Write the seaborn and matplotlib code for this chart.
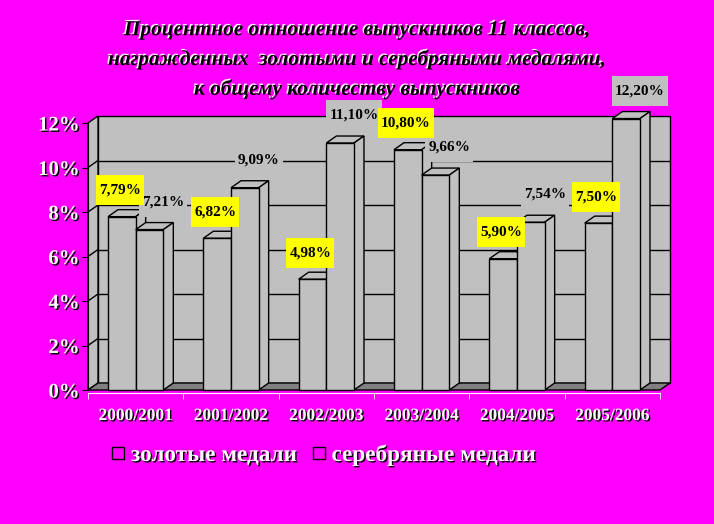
import numpy as np
import pandas as pd
import matplotlib
matplotlib.use('Agg')
import matplotlib.pyplot as plt
import matplotlib.patheffects as pe
from matplotlib.patches import Polygon, Rectangle
from matplotlib.path import Path
from matplotlib.lines import Line2D
import seaborn as sns

# Data.
years = ['2000/2001', '2001/2002', '2002/2003', '2003/2004', '2004/2005', '2005/2006']
gold = [7.79, 6.82, 4.98, 10.80, 5.90, 7.50]
silver = [7.21, 9.09, 11.10, 9.66, 7.54, 12.20]
series = ['золотые медали', 'серебряные медали']
title = ('Процентное отношение выпускников 11 классов,\n'
         'награжденных  золотыми и серебряными медалями,\n'
         'к общему количеству выпускников')
yticks = [0, 2, 4, 6, 8, 10, 12]

df = pd.DataFrame({
    'year': years * 2,
    'value': gold + silver,
    'kind': [series[0]] * len(years) + [series[1]] * len(years),
})

sns.set_style('white')
plt.rcParams['font.family'] = ['Liberation Serif', 'DejaVu Serif']

MAGENTA = '#FF00FF'
WALL = '#C0C0C0'
FLOOR = '#808080'


def tall_box(x0, y0, width, height, mutation_size):
    # label box: little padding at the sides, more above and below
    px, py = 0.2 * mutation_size, 0.55 * mutation_size
    return Path.unit_rectangle().transformed(
        matplotlib.transforms.Affine2D().scale(width + 2 * px, height + 2 * py)
        .translate(x0 - px, y0 - py))


fig = plt.figure(figsize=(7.14, 5.24), dpi=100, facecolor=MAGENTA)
ax = fig.add_axes([88 / 714, 1 - 390 / 524, 572 / 714, 267 / 524])
ax.set_facecolor('none')

sns.barplot(data=df, x='year', y='value', hue='kind', hue_order=series,
            palette=[WALL, WALL], edgecolor='black', linewidth=1,
            width=0.58, gap=0, legend=False, ax=ax, zorder=3)

ax.set_xlim(-0.5, len(years) - 0.5)
ax.set_ylim(0, 12)

# depth of the pseudo-3D effect, in pixels converted to data units
px_x = 572 / len(years)
px_y = 267 / 12
ddx, ddy = 10 / px_x, 7 / px_y
x0, x1 = -0.5, len(years) - 0.5

# back wall, left wall and floor
ax.add_patch(Rectangle((x0 + ddx, ddy), x1 - x0, 12, facecolor=WALL,
                       edgecolor='black', lw=1, zorder=0, clip_on=False))
ax.add_patch(Polygon([(x0, 0), (x0, 12), (x0 + ddx, 12 + ddy), (x0 + ddx, ddy)],
                     facecolor=WALL, edgecolor='black', lw=1, zorder=0.5, clip_on=False))
for v in yticks[1:-1]:
    ax.plot([x0 + ddx, x1 + ddx], [v + ddy, v + ddy], color='black', lw=1,
            zorder=0.4, clip_on=False)
    ax.plot([x0, x0 + ddx], [v, v + ddy], color='black', lw=1, zorder=0.6, clip_on=False)
ax.add_patch(Polygon([(x0, 0), (x1, 0), (x1 + ddx, ddy), (x0 + ddx, ddy)],
                     facecolor=FLOOR, edgecolor='black', lw=1, zorder=0.7, clip_on=False))

# top and side faces of the columns
for i, cont in enumerate(ax.containers):
    base_z = 2 + 2 * i
    for p in cont.patches:
        bx, bw, bh = p.get_x(), p.get_width(), p.get_height()
        top = [(bx, bh), (bx + bw, bh), (bx + bw + ddx, bh + ddy), (bx + ddx, bh + ddy)]
        side = [(bx + bw, 0), (bx + bw, bh), (bx + bw + ddx, bh + ddy), (bx + bw + ddx, ddy)]
        for poly in (top, side):
            ax.add_patch(Polygon(poly, facecolor=WALL, edgecolor='black', lw=1,
                                 zorder=base_z, clip_on=False))
        p.set_zorder(base_z + 1)
        p.set_clip_on(False)

# value labels
lab_font = dict(fontsize=11, fontweight='bold', color='black', ha='center', va='center',
                annotation_clip=False)
for i, cont in enumerate(ax.containers):
    face = '#FFFF00' if i == 0 else WALL
    off = (-1.5, 19) if i == 0 else (10, 20)
    for p in cont.patches:
        bh = p.get_height()
        ax.annotate(f'{bh:.2f}%'.replace('.', ','),
                    xy=(p.get_x() + p.get_width() / 2, bh), xytext=off,
                    textcoords='offset points', zorder=11 - i,
                    bbox=dict(boxstyle=tall_box, facecolor=face, edgecolor='none'),
                    **lab_font)

shadow = [pe.withSimplePatchShadow(offset=(1, -1), shadow_rgbFace='black', alpha=1)]

# axes styling
ax.set_xlabel('')
ax.set_ylabel('')
ax.set_yticks(yticks)
ax.set_yticklabels([f'{v}%' for v in yticks])
for s in ('top', 'right'):
    ax.spines[s].set_visible(False)
ax.spines['left'].set_color('black')
ax.spines['left'].set_zorder(1)
ax.spines['bottom'].set_color('white')
ax.spines['bottom'].set_position(('outward', 2))
ax.tick_params(axis='y', left=True, length=4, color='black', pad=2,
               labelsize=15, labelcolor='white')
ax.set_xticks(np.arange(len(years) + 1) - 0.5, minor=True)
ax.tick_params(axis='x', which='minor', bottom=True, length=4, color='white')
ax.tick_params(axis='x', which='major', bottom=False, length=0, pad=11,
               labelsize=12.5, labelcolor='white')
for t in ax.get_yticklabels() + ax.get_xticklabels():
    t.set_fontweight('bold')
    t.set_path_effects(shadow)

fig.text(0.5, 1 - 60 / 524, title, ha='center', va='center', fontsize=15.3,
         fontweight='bold', fontstyle='italic', color='black', linespacing=1.6,
         path_effects=[pe.withSimplePatchShadow(offset=(-1, 1), shadow_rgbFace='white', alpha=1)])

handles = [Line2D([], [], marker='s', linestyle='none', markersize=9,
                  markerfacecolor='none', markeredgecolor='black', markeredgewidth=1)
           for _ in series]
leg = fig.legend(handles, series, loc='center left', bbox_to_anchor=(88 / 714, 1 - 455 / 524),
                 ncol=2, frameon=False, handletextpad=0.15, columnspacing=0.55,
                 handlelength=0.8, prop=dict(size=16.7, weight='bold'))
for t in leg.get_texts():
    t.set_color('white')
    t.set_path_effects(shadow)

fig.savefig('out.png', dpi=100, facecolor=MAGENTA)
